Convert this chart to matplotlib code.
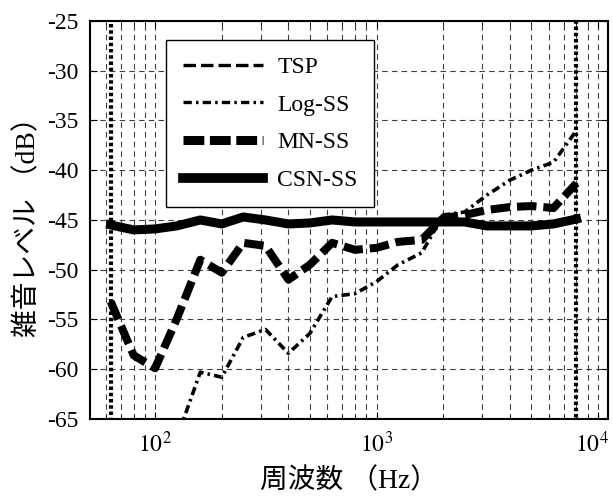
import matplotlib
matplotlib.use("Agg")
import matplotlib.pyplot as plt
import matplotlib.transforms as mtransforms
from matplotlib.lines import Line2D
from matplotlib.ticker import LogLocator, NullFormatter

plt.rcParams['font.family'] = ['Liberation Serif', 'Noto Sans CJK JP']
plt.rcParams['mathtext.fontset'] = 'stix'
plt.rcParams['lines.scale_dashes'] = False

# 1/3 octave band centre frequencies (Hz)
freq = [63, 80, 100, 125, 160, 200, 250, 315, 400, 500, 630, 800,
        1000, 1250, 1600, 2000, 2500, 3150, 4000, 5000, 6300, 8000]

# TSP only shows up as the vertical edges of the band
tsp_freq = [63, 63, 8000, 8000]
tsp_level = [-20, -90, -90, -20]

log_ss = [-90, -85, -75, -67, -60.3, -60.8, -56.8, -56.0, -58.4, -56.4, -52.7, -52.4,
          -51.2, -49.5, -48.3, -44.5, -44.2, -42.5, -41.0, -40.0, -39.2, -36.0]

mn_ss = [-53.2, -58.6, -59.9, -55.0, -49.0, -50.3, -47.3, -47.6, -51.0, -49.5, -47.3, -48.0,
         -47.8, -47.2, -47.0, -44.8, -44.5, -44.0, -43.7, -43.6, -43.8, -41.3]

csn_ss = [-45.5, -46.0, -45.9, -45.6, -45.0, -45.4, -44.7, -45.0, -45.4, -45.3, -45.0, -45.2,
          -45.2, -45.2, -45.2, -45.2, -45.2, -45.6, -45.6, -45.6, -45.4, -44.9]

yticks = list(range(-65, -24, 5))
xticks = [1e2, 1e3, 1e4]
xticklabels = [r'$10^2$', r'$10^3$', r'$10^4$']

fig = plt.figure(figsize=(6.13, 5.04), dpi=100)
ax = fig.add_axes([0.1468, 0.1687, 0.845, 0.7897])

ax.plot(tsp_freq, tsp_level, color='k', lw=3.0, ls=(0, (2.5, 2)))
ax.plot(freq, log_ss, color='k', lw=2.6, ls=(0, (6, 3, 1.8, 3)))
ax.plot(freq, mn_ss, color='k', lw=5.8, ls=(0, (14, 5)), dash_capstyle='butt')
ax.plot(freq, csn_ss, color='k', lw=6.5, solid_joinstyle='round')

ax.set_xscale('log')
ax.set_xlim(50.8, 11100)
ax.set_ylim(-65, -25)
ax.set_yticks(yticks)
ax.set_yticklabels([str(v) for v in yticks])
ax.set_xticks(xticks)
ax.set_xticklabels(xticklabels)
ax.xaxis.set_minor_locator(LogLocator(base=10, subs=range(2, 10)))
ax.xaxis.set_minor_formatter(NullFormatter())

ax.grid(True, which='both', ls=(0, (4, 3)), color='0.25', lw=0.8)
ax.tick_params(which='both', direction='in', top=True, right=True)
ax.tick_params(which='major', length=5)
ax.tick_params(which='minor', length=3)
ax.tick_params(axis='x', pad=9, labelsize=17)
ax.tick_params(axis='y', pad=8, labelsize=17)
for sp in ax.spines.values():
    sp.set_linewidth(1.5)

# nudge the last decade label so it stays inside the figure
last = ax.get_xticklabels()[-1]
last.set_transform(last.get_transform() +
                   mtransforms.ScaledTranslation(-6 / 100, 0, fig.dpi_scale_trans))

ax.set_xlabel('周波数 （Hz）', fontsize=20, labelpad=8)
ax.set_ylabel('雑音レベル （dB）', fontsize=20, labelpad=4)

# legend proxies so the handles match the printed key
handles = [
    Line2D([], [], color='k', lw=2.4, ls=(0, (9, 3.6))),
    Line2D([], [], color='k', lw=2.4, ls=(0, (6, 3, 1.8, 3))),
    Line2D([], [], color='k', lw=6.5, ls=(0, (15, 4)), dash_capstyle='butt'),
    Line2D([], [], color='k', lw=7.0),
]
labels = ['TSP', 'Log-SS', 'MN-SS', 'CSN-SS']
leg = ax.legend(handles, labels, loc='upper left', bbox_to_anchor=(0.147, 0.952),
                borderaxespad=0, fontsize=17, handlelength=3.4, labelspacing=0.68,
                borderpad=0.7, handletextpad=0.6,
                fancybox=False, framealpha=1, edgecolor='k')
leg.get_frame().set_linewidth(1.0)

fig.savefig('out.png', dpi=100)
